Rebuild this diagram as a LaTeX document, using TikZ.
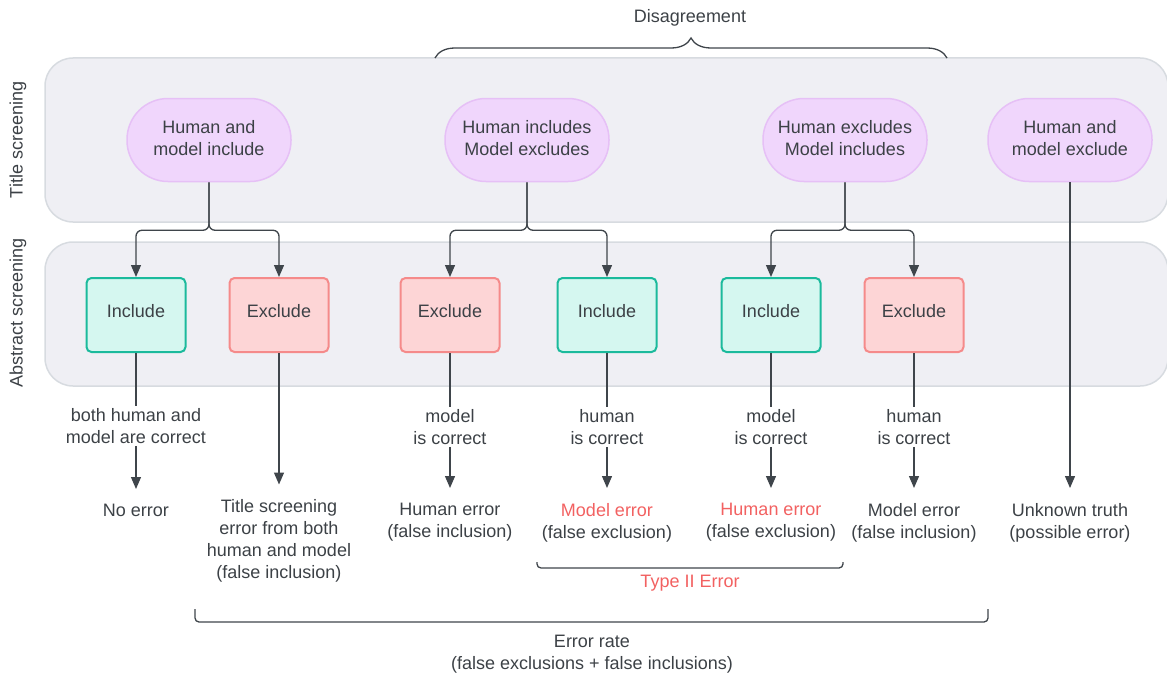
\documentclass[tikz,border=0pt]{standalone}
\usepackage{fontspec}
\setmainfont{Liberation Sans}
\usetikzlibrary{arrows.meta,decorations.pathreplacing}
\definecolor{txt}{HTML}{3C4146}
\definecolor{lne}{HTML}{3F454B}
\definecolor{bandfill}{HTML}{EFEFF4}
\definecolor{bandline}{HTML}{D7DBE0}
\definecolor{pillfill}{HTML}{F0D6FC}
\definecolor{pillline}{HTML}{E6C0F6}
\definecolor{incfill}{HTML}{D5F7F0}
\definecolor{incline}{HTML}{1BBA9C}
\definecolor{excfill}{HTML}{FDD5D6}
\definecolor{excline}{HTML}{F58A8A}
\definecolor{errred}{HTML}{F26161}

\begin{document}
\begin{tikzpicture}[x=1pt,y=-1pt,font=\fontsize{18}{22}\selectfont,text=txt,
        band/.style={fill=bandfill,draw=bandline,line width=1.5pt,rounded corners=28pt},
        pill/.style={fill=pillfill,draw=pillline,line width=1.5pt,rounded corners=41pt,
            minimum width=164pt,minimum height=83pt,align=center,text depth=5pt},
        inc/.style={fill=incfill,draw=incline,line width=2pt,rounded corners=5pt,
            minimum width=99pt,minimum height=74pt,text depth=8pt},
        exc/.style={inc,fill=excfill,draw=excline},
        lbl/.style={align=center,inner sep=2pt},
        res/.style={align=center,anchor=north,inner sep=0pt},
        conn/.style={draw=lne,line width=1.3pt},
        arr/.style={conn,-{Triangle[length=12pt,width=10pt]}},
        brk/.style={conn,rounded corners=4pt}]
    \useasboundingbox (0,0) rectangle (1167,677);
    \draw[band] (45,58) rectangle (1168,222);
    \draw[band] (45,242) rectangle (1168,386);
    \node[rotate=90] (ts) at (18,140) {Title screening};
    \node[rotate=90] (as) at (18,313) {Abstract screening};

    \node[pill] (t1) at (209,140) {Human and\\model include};
    \node[pill] (t2) at (527,140) {Human includes\\Model excludes};
    \node[pill] (t3) at (845,140) {Human excludes\\Model includes};
    \node[pill] (t4) at (1070,140) {Human and\\model exclude};

    \node[inc] (a1) at (136,315) {Include};
    \node[exc] (a2) at (279,315) {Exclude};
    \node[exc] (a3) at (450,315) {Exclude};
    \node[inc] (a4) at (607,315) {Include};
    \node[inc] (a5) at (771,315) {Include};
    \node[exc] (a6) at (914,315) {Exclude};

    \foreach \t/\l/\r in {t1/a1/a2, t2/a3/a4, t3/a5/a6} {
        \draw[arr,rounded corners=6pt] (\t.south) -- ++(0,48) -| (\l.north);
        \draw[arr,rounded corners=6pt] (\t.south) -- ++(0,48) -| (\r.north);
    }

    \node[lbl] (m1) at (136,426) {both human and\\model are correct};
    \node[lbl] (m3) at (450,427) {model\\is correct};
    \node[lbl] (m4) at (607,427) {human\\is correct};
    \node[lbl] (m5) at (771,427) {model\\is correct};
    \node[lbl] (m6) at (914,427) {human\\is correct};

    \node[res] (r1) at (136,504) {No error};
    \node[res] (r2) at (279,499.5) {Title screening\\error from both\\human and model\\(false inclusion)};
    \node[res] (r3) at (450,503) {Human error\\(false inclusion)};
    \node[res] (r4) at (607,503) {{\color{errred}Model error}\\(false exclusion)};
    \node[res] (r5) at (771,503) {{\color{errred}Human error}\\(false exclusion)};
    \node[res] (r6) at (914,503) {Model error\\(false inclusion)};
    \node[res] (r7) at (1070,503) {Unknown truth\\(possible error)};

    \foreach \n in {1,3,4,5,6} {
        \draw[conn] (a\n) -- (m\n);
        \draw[arr,shorten >=15pt] (m\n) -- (r\n);
    }
    \draw[arr,shorten >=15pt] (a2) -- (r2);
    \draw[arr,shorten >=15pt] (t4) -- (r7);

    \draw[conn,decorate,decoration={brace,amplitude=20pt}] (435,58) -- (947,58);
    \node (dis) at (690,18) {Disagreement};
    \draw[brk] (537,562) |- (690,568) -| (843,562);
    \node[text=errred] (typ) at (690,583) {Type II Error};
    \draw[brk] (195,609) |- (592,622) -| (988,609);
    \node[align=center] (err) at (592,654) {Error rate\\(false exclusions + false inclusions)};
\end{tikzpicture}
\end{document}
